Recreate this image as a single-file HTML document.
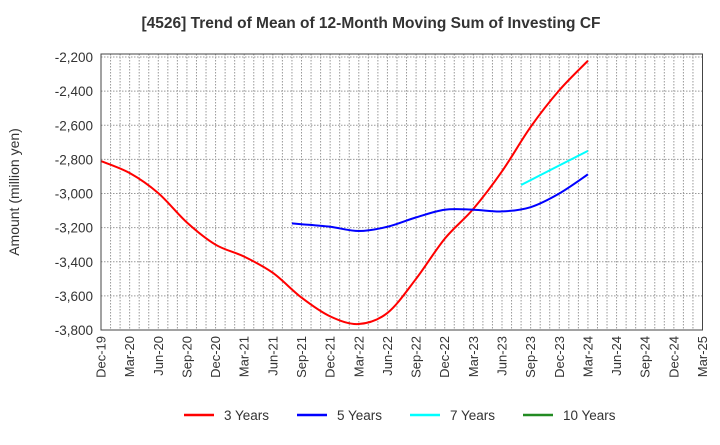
<!DOCTYPE html>
<html><head><meta charset="utf-8"><style>
body{margin:0;background:#fff;}
svg text{font-family:"Liberation Sans",Arial,sans-serif;fill:#333;}
</style></head><body>
<svg id="chart" width="720" height="440" xmlns="http://www.w3.org/2000/svg">
<text x="371" y="28" text-anchor="middle" font-size="15.5" font-weight="bold">[4526]  Trend of Mean of 12-Month Moving Sum of Investing CF</text>
<text transform="translate(19,192) rotate(-90)" text-anchor="middle" font-size="14">Amount (million yen)</text>
<g id="grid"></g>
<g id="yticks"></g>
<g id="xticks"></g>
<g id="series"></g>
<rect x="101" y="54" width="601.5" height="276" fill="none" stroke="#444" stroke-width="1"/>
<g>
<g><line x1="184" y1="415" x2="214" y2="415" stroke="#f00" stroke-width="2.5"/><text x="224" y="420" font-size="13.5">3 Years</text></g>
<g><line x1="297" y1="415" x2="327" y2="415" stroke="#00f" stroke-width="2.5"/><text x="337" y="420" font-size="13.5">5 Years</text></g>
<g><line x1="410" y1="415" x2="440" y2="415" stroke="#0ff" stroke-width="2.5"/><text x="450" y="420" font-size="13.5">7 Years</text></g>
<g><line x1="523" y1="415" x2="553" y2="415" stroke="#228b22" stroke-width="2.5"/><text x="563" y="420" font-size="13.5">10 Years</text></g>
</g>
</svg>
<script>
const xTickLabels=["Dec-19","Mar-20","Jun-20","Sep-20","Dec-20","Mar-21","Jun-21","Sep-21","Dec-21","Mar-22","Jun-22","Sep-22","Dec-22","Mar-23","Jun-23","Sep-23","Dec-23","Mar-24","Jun-24","Sep-24","Dec-24","Mar-25"];
const yTicks=[-2200,-2400,-2600,-2800,-3000,-3200,-3400,-3600,-3800];
// month index from Dec-19
const s3Months=[0,3,6,9,12,15,18,21,24,27,30,33,36,39,42,45,48,51];
const s3Values=[-2810,-2880,-2998,-3170,-3300,-3370,-3465,-3610,-3720,-3765,-3700,-3500,-3265,-3090,-2870,-2610,-2395,-2222];
const s5Months=[20,21,24,27,30,33,36,39,42,45,48,51];
const s5Values=[-3175,-3180,-3195,-3220,-3195,-3140,-3095,-3095,-3105,-3080,-3000,-2888];
const s7Months=[44,51];
const s7Values=[-2950,-2750];
const NS="http://www.w3.org/2000/svg";
const X0=101,X1=702.5,Y0=330,Y1=57,nMonths=63,yMin=-3800,yMax=-2200;
function xs(m){return X0+(X1-X0)*m/nMonths;}
function ys(v){return Y0+(Y1-Y0)*(v-yMin)/(yMax-yMin);}
function mk(tag,attrs,parent){const e=document.createElementNS(NS,tag);for(const k in attrs)e.setAttribute(k,attrs[k]);parent.appendChild(e);return e;}
const grid=document.getElementById('grid');
for(let m=1;m<nMonths;m++){const l=mk('line',{x1:xs(m),x2:xs(m),y1:54,y2:330,stroke:'#999','stroke-width':1,'stroke-dasharray':'1.5,1.5'},grid);

}
const yt=document.getElementById('yticks');
yTicks.forEach(v=>{
 if(v>yMin){const l=mk('line',{x1:X0,x2:X1,y1:ys(v),y2:ys(v),stroke:'#999','stroke-width':1,'stroke-dasharray':'1.5,1.5'},grid);
 
 }
 const t=mk('text',{x:93,y:ys(v)+5,'text-anchor':'end','font-size':13.5},yt);
 t.textContent=v.toLocaleString('en-US');
 
 
});
const xt=document.getElementById('xticks');
xTickLabels.forEach((lab,i)=>{
 const x=xs(i*3);
 const t=mk('text',{transform:`translate(${x+4.5},336) rotate(-90)`,'text-anchor':'end','font-size':13},xt);
 t.textContent=lab;
 
 
});
function path(ms,vs){
 const p=ms.map((m,i)=>[xs(m),ys(vs[i])]);
 let d=`M${p[0][0]},${p[0][1]}`;
 for(let i=0;i<p.length-1;i++){
  const a=p[i-1]||p[i],b=p[i],c=p[i+1],e=p[i+2]||c;
  d+=` C${b[0]+(c[0]-a[0])/6},${b[1]+(c[1]-a[1])/6} ${c[0]-(e[0]-b[0])/6},${c[1]-(e[1]-b[1])/6} ${c[0]},${c[1]}`;
 }
 return d;
}
const sg=document.getElementById('series');
[[s3Months,s3Values,'#f00','series-3-years'],[s5Months,s5Values,'#00f','series-5-years'],[s7Months,s7Values,'#0ff','series-7-years']].forEach(s=>{
 const p=mk('path',{d:path(s[0],s[1]),fill:'none',stroke:s[2],'stroke-width':2},sg);
 
 
});
</script>
</body></html>
